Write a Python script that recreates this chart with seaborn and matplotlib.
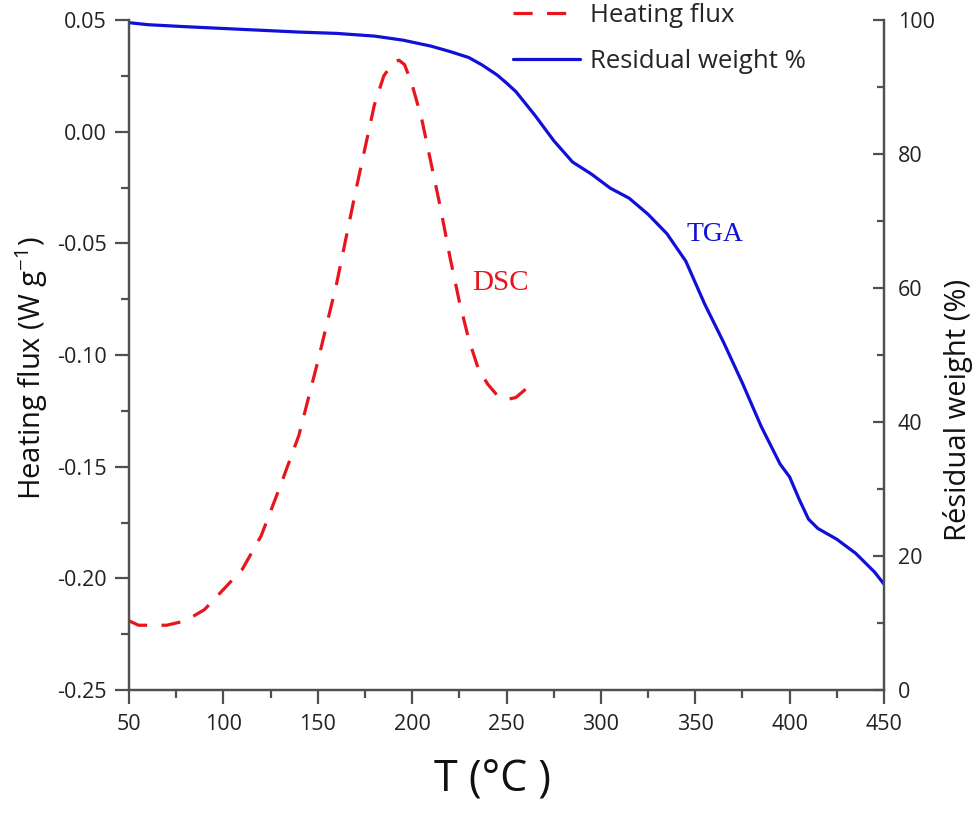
import numpy as np
import pandas as pd
import matplotlib
matplotlib.use("Agg")
import matplotlib.pyplot as plt
import seaborn as sns
from matplotlib.ticker import MultipleLocator

# DSC curve (heating flux, W/g) vs temperature
dsc_t = [50, 55, 60, 70, 80, 90, 100, 110, 120, 130, 140, 150, 160, 170, 180,
         185, 190, 193, 196, 200, 205, 210, 215, 220, 225, 230, 235, 240, 245,
         250, 255, 262]
dsc_flux = [-0.219, -0.221, -0.221, -0.221, -0.219, -0.214, -0.205, -0.196,
            -0.181, -0.159, -0.136, -0.103, -0.068, -0.027, 0.012, 0.025,
            0.031, 0.032, 0.030, 0.021, 0.006, -0.014, -0.034, -0.056, -0.076,
            -0.093, -0.106, -0.113, -0.118, -0.120, -0.119, -0.114]

# TGA curve (residual weight %) vs temperature
tga_t = [50, 60, 80, 110, 140, 160, 180, 195, 210, 220, 230, 237, 245, 250,
         255, 265, 275, 285, 295, 305, 315, 325, 335, 345, 355, 365, 375, 385,
         395, 400, 405, 410, 415, 425, 435, 445, 450]
tga_w = [99.6, 99.3, 99.0, 98.6, 98.2, 98.0, 97.6, 97.0, 96.1, 95.3, 94.4,
         93.3, 91.8, 90.6, 89.3, 85.8, 82.0, 78.8, 77.0, 74.9, 73.4, 71.0,
         68.1, 64.0, 57.6, 51.9, 45.8, 39.3, 33.7, 31.8, 28.5, 25.5, 24.1,
         22.5, 20.4, 17.6, 15.8]

left_ticks = [-0.25, -0.20, -0.15, -0.10, -0.05, 0.00, 0.05]
left_labels = ["-0.25", "-0.20", "-0.15", "-0.10", "-0.05", "0.00", "0.05"]

dsc = pd.DataFrame({"T": dsc_t, "flux": dsc_flux})
tga = pd.DataFrame({"T": tga_t, "w": tga_w})

sns.set_style("ticks")
plt.rcParams["font.family"] = ["Open Sans", "DejaVu Sans"]
plt.rcParams["mathtext.fontset"] = "custom"
plt.rcParams["mathtext.rm"] = "Open Sans"
plt.rcParams["mathtext.it"] = "Open Sans"

red = "#e8141e"
blue = "#1010d8"
spine_c = "#505050"

fig = plt.figure(figsize=(9.74, 8.16), dpi=100)
ax = fig.add_axes([129 / 974, 1 - 690 / 816, (884 - 129) / 974, (690 - 20) / 816])
ax2 = ax.twinx()

sns.lineplot(data=dsc, x="T", y="flux", ax=ax, color=red, lw=2.3,
             linestyle=(0, (6, 4.5)), label="Heating flux", legend=False)
sns.lineplot(data=tga, x="T", y="w", ax=ax2, color=blue, lw=2.3,
             label="Residual weight %", legend=False)

ax.set_xlim(50, 450)
ax.set_ylim(-0.25, 0.05)
ax2.set_ylim(0, 100)

ax.xaxis.set_major_locator(MultipleLocator(50))
ax.xaxis.set_minor_locator(MultipleLocator(25))
ax.set_yticks(left_ticks)
ax.set_yticklabels(left_labels)
ax.yaxis.set_minor_locator(MultipleLocator(0.025))
ax2.yaxis.set_major_locator(MultipleLocator(20))
ax2.yaxis.set_minor_locator(MultipleLocator(10))

for a in (ax, ax2):
    for s in a.spines.values():
        s.set_color(spine_c)
        s.set_linewidth(1.6)
    a.spines["top"].set_visible(False)

ax.tick_params(axis="both", which="major", direction="out", length=10,
               width=1.6, color=spine_c, labelsize=15.5, labelcolor="#222222")
ax.tick_params(axis="both", which="minor", direction="out", length=6,
               width=1.6, color=spine_c)
ax.tick_params(axis="x", pad=7)
ax.tick_params(axis="y", pad=6)
ax2.tick_params(axis="y", which="major", direction="in", length=8,
                width=1.6, color=spine_c, labelsize=15.5, labelcolor="#222222", pad=10)
ax2.tick_params(axis="y", which="minor", direction="in", length=5,
                width=1.6, color=spine_c)

ax.set_xlabel("T (°C )", fontsize=31, color="#111111")
ax.xaxis.set_label_coords((492 - 129) / 755, -(758 - 690) / 670)
ax.set_ylabel("Heating flux (W g$^{-1}$)", fontsize=21, color="#111111")
ax.yaxis.set_label_coords((50 - 129) / 755, (690 - 368) / 670)
ax2.set_ylabel("Résidual weight (%)", fontsize=21, color="#111111")
ax2.yaxis.set_label_coords((943 - 129) / 755, (690 - 410) / 670)

ax.text(232, -0.0678, "DSC", color=red, fontsize=21, va="center", ha="left",
        family="Liberation Serif")
ax2.text(345.5, 68, "TGA", color=blue, fontsize=20, va="center", ha="left",
         family="Liberation Serif")

h1, l1 = ax.get_legend_handles_labels()
h2, l2 = ax2.get_legend_handles_labels()
ax.legend(h1 + h2, l1 + l2, loc="upper left", frameon=False, fontsize=18.5,
          bbox_to_anchor=(513 / 974, 1 - 3 / 816), bbox_transform=fig.transFigure,
          borderaxespad=0, borderpad=0, handlelength=2.6, handletextpad=0.4,
          labelspacing=0.8)

fig.savefig("out.png", dpi=100)
